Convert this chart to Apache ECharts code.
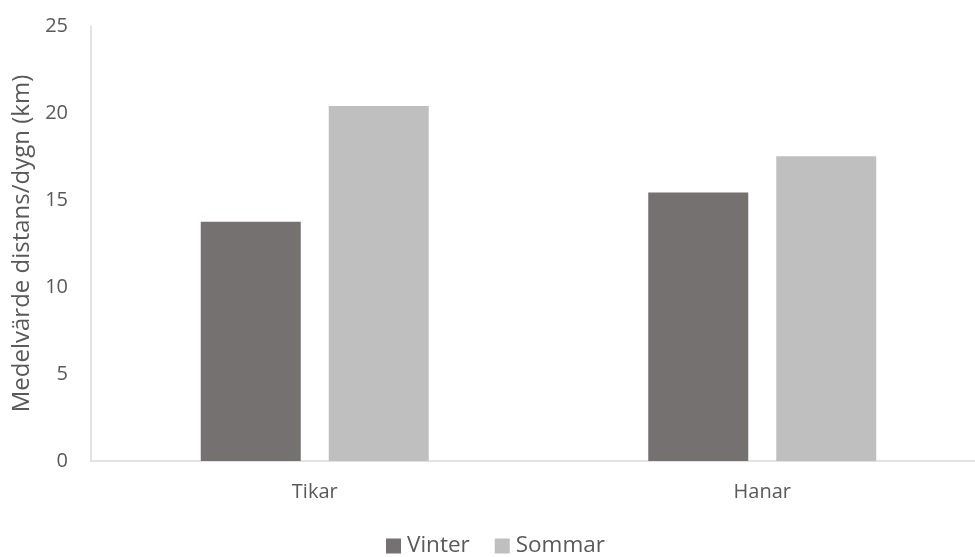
<!DOCTYPE html>
<html>
<head>
<meta charset="utf-8">
<script src="https://cdn.jsdelivr.net/npm/echarts@6/dist/echarts.min.js"></script>
<style>
  html, body { margin: 0; padding: 0; background: #ffffff; overflow: hidden; }
  /* canvas is a little wider than the window so the plot area runs past the right edge */
  #chart { width: 986px; height: 557px; }
</style>
</head>
<body>
<div id="chart"></div>
<script>
// Mean daily travel distance per group and season
const categories = ['Tikar', 'Hanar'];
const vinter = [13.75, 15.43];
const sommar = [20.4, 17.52];
const seriesNames = ['Vinter', 'Sommar'];
const yTicks = [0, 5, 10, 15, 20, 25];

const font = '"Open Sans", "Liberation Sans", sans-serif';
const textColor = '#595959';

const chart = echarts.init(document.getElementById('chart'), null, { renderer: 'canvas' });
chart.setOption({
  animation: false,
  backgroundColor: '#ffffff',
  textStyle: { fontFamily: font },
  grid: { left: 91, right: 0, top: 26, bottom: 96, containLabel: false },
  legend: {
    data: seriesNames,
    top: 534,
    left: 386,
    padding: 0,
    itemWidth: 15,
    itemHeight: 15,
    itemGap: 25,
    icon: 'rect',
    textStyle: { fontFamily: font, fontSize: 22.5, lineHeight: 24, color: textColor, padding: [0, 0, 0, 1] }
  },
  xAxis: {
    type: 'category',
    data: categories,
    axisLine: { show: true, lineStyle: { color: '#d9d9d9', width: 1.5 } },
    axisTick: { show: false },
    axisLabel: { fontFamily: font, fontSize: 20, color: textColor, margin: 21 }
  },
  yAxis: {
    type: 'value',
    min: yTicks[0],
    max: yTicks[yTicks.length - 1],
    interval: 5,
    name: 'Medelvärde distans/dygn (km)',
    nameLocation: 'middle',
    nameGap: 57,
    nameTextStyle: { fontFamily: font, fontSize: 24, color: textColor },
    axisLine: { show: true, lineStyle: { color: '#d9d9d9', width: 1.5 } },
    axisTick: { show: false },
    splitLine: { show: false },
    axisLabel: { fontFamily: font, fontSize: 20, color: textColor, margin: 23 }
  },
  series: [
    {
      name: seriesNames[0],
      type: 'bar',
      data: vinter,
      barWidth: 100,
      barGap: '28%',
      itemStyle: { color: '#767171' }
    },
    {
      name: seriesNames[1],
      type: 'bar',
      data: sommar,
      barWidth: 100,
      itemStyle: { color: '#bfbfbf' }
    }
  ]
});
</script>
</body>
</html>
